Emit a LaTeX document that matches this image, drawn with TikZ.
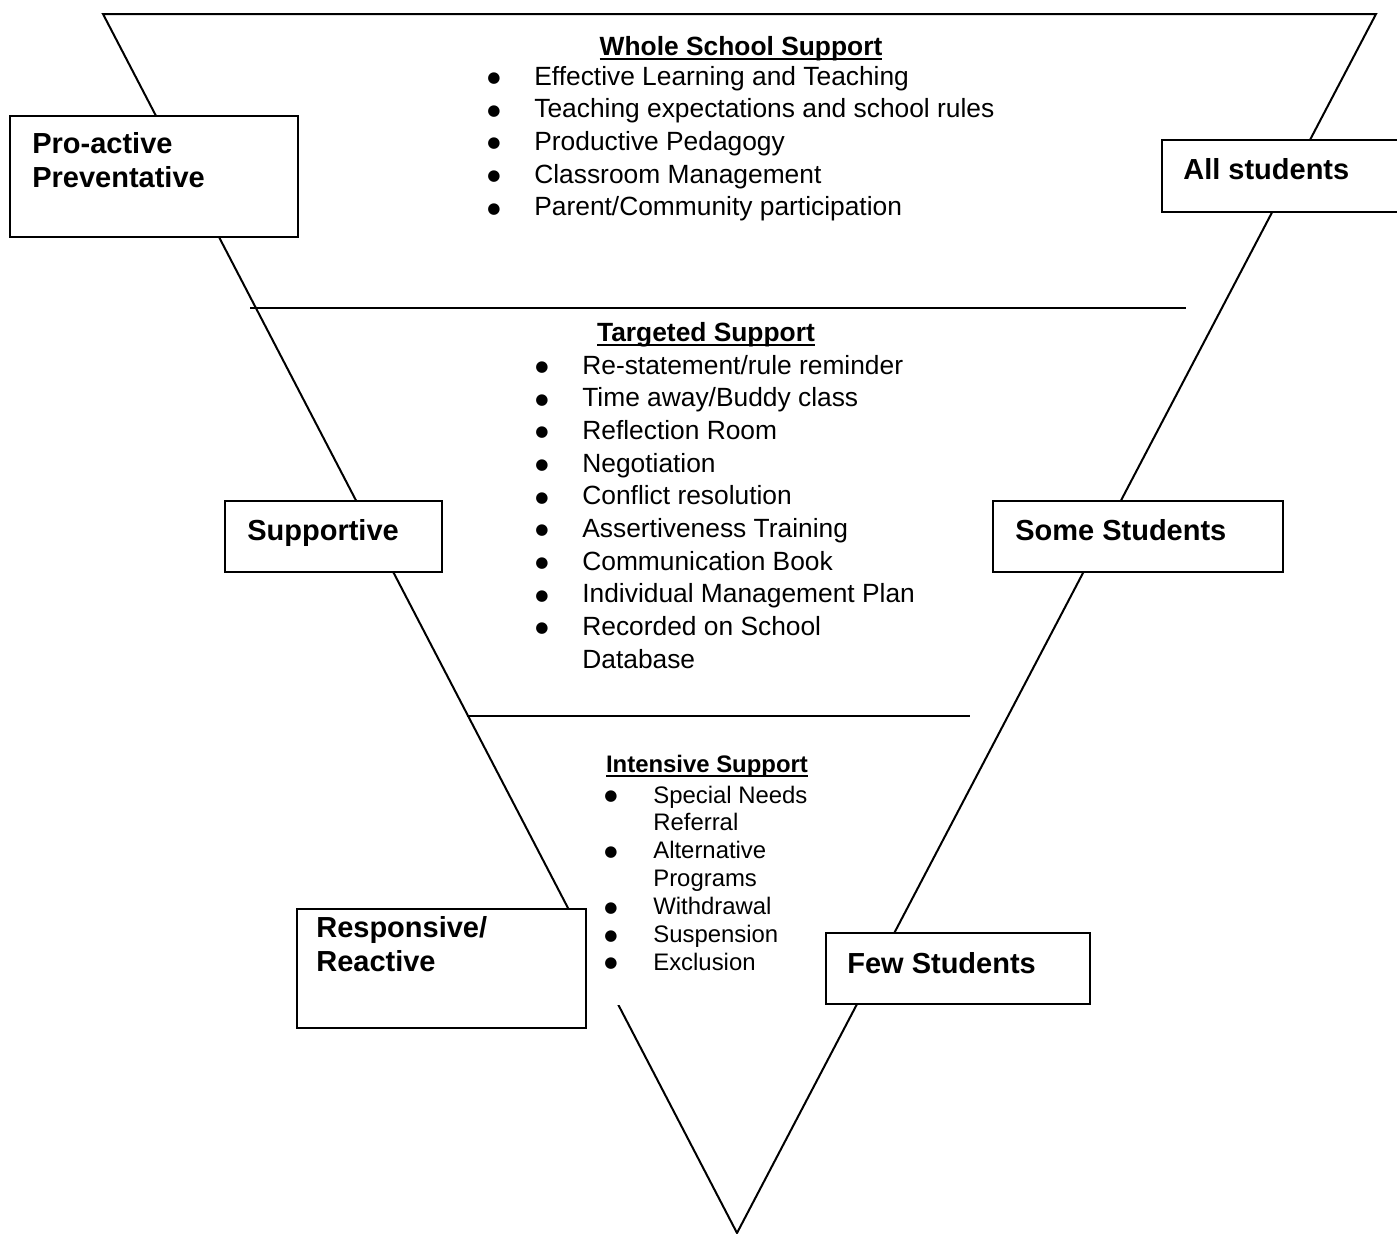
\documentclass[tikz,border=0pt]{standalone}
\usepackage{fontspec}
\setmainfont{Liberation Sans}
\newfontfamily\dotfont{DejaVu Sans}
\newcommand\ulhead[1]{\setbox0=\hbox{#1}\rlap{\rule[-0.1cm]{\wd0}{0.04cm}}\box0}
\newcommand\bul{\raisebox{1.5pt}{\dotfont\fontsize{8.6}{9}\selectfont ●}}
\tikzset{
  edge/.style={line width=0.04cm},
  tag/.style={draw, line width=0.04cm, fill=white},
  tagtext/.style={font=\fontsize{16.5}{19.9}\selectfont\bfseries, anchor=base west, inner sep=0},
  head/.style={font=\fontsize{15}{18.6}\selectfont\bfseries, anchor=base, inner sep=0},
  items/.style={font=\fontsize{15}{18.6}\selectfont, anchor=base west, inner sep=0},
  smallhead/.style={font=\fontsize{13.6}{15.9}\selectfont\bfseries, anchor=base, inner sep=0},
  smallitems/.style={font=\fontsize{13.6}{15.9}\selectfont, anchor=base west, inner sep=0}
}
\begin{document}
\begin{tikzpicture}[x=0.02cm,y=-0.02cm]
        \useasboundingbox (0,0) rectangle (1397,1234);
        %画倒三角形
        \coordinate (tl) at (103,14);
        \coordinate (tr) at (1376,14);
        \coordinate (bot) at (737,1233);
        \draw[edge] (tl) -- (tr) -- (bot) -- cycle;
        %画分隔线
        \draw[edge] (250,308) -- (1186,308);
        \draw[edge] (467,716) -- (970,716);
        %遮住斜边
        \fill[white] (586,745) rectangle (830,1005);
        %左边的框
        \draw[tag] (10,116) rectangle (298,237);
        \node[tagtext] (pro) at (32,153) {\begin{tabular}[t]{@{}l@{}}Pro-active\\Preventative\end{tabular}};
        \draw[tag] (225,501) rectangle (442,572);
        \node[tagtext] (supp) at (247,540) {Supportive};
        \draw[tag] (297,909) rectangle (586,1028);
        \node[tagtext] (resp) at (316,937) {\begin{tabular}[t]{@{}l@{}}Responsive/\\Reactive\end{tabular}};
        %右边的框
        \draw[tag] (1162,140) rectangle (1405,212);
        \node[tagtext] (all) at (1183,179) {All students};
        \draw[tag] (993,501) rectangle (1283,572);
        \node[tagtext] (some) at (1015,540) {Some Students};
        \draw[tag] (826,933) rectangle (1090,1004);
        \node[tagtext] (few) at (847,973) {Few Students};
        %第一层
        \node[head] (whole head) at (741,55) {\ulhead{Whole School Support}};
        \node[items] (whole list) at (487,85) {\begin{tabular}[t]{@{}p{0.94cm}@{}l@{}}
                \bul & Effective Learning and Teaching\\
                \bul & Teaching expectations and school rules\\
                \bul & Productive Pedagogy\\
                \bul & Classroom Management\\
                \bul & Parent/Community participation
        \end{tabular}};
        %第二层
        \node[head] (target head) at (706,341) {\ulhead{Targeted Support}};
        \node[items] (target list) at (535,374) {\begin{tabular}[t]{@{}p{0.94cm}@{}l@{}}
                \bul & Re-statement/rule reminder\\
                \bul & Time away/Buddy class\\
                \bul & Reflection Room\\
                \bul & Negotiation\\
                \bul & Conflict resolution\\
                \bul & Assertiveness Training\\
                \bul & Communication Book\\
                \bul & Individual Management Plan\\
                \bul & Recorded on School\\
                     & Database
        \end{tabular}};
        %第三层
        \node[smallhead] (intens head) at (707,772) {\ulhead{Intensive Support}};
        \node[smallitems] (intens list) at (604,803) {\begin{tabular}[t]{@{}p{0.98cm}@{}l@{}}
                \bul & Special Needs\\
                     & Referral\\
                \bul & Alternative\\
                     & Programs\\
                \bul & Withdrawal\\
                \bul & Suspension\\
                \bul & Exclusion
        \end{tabular}};
\end{tikzpicture}
\end{document}
